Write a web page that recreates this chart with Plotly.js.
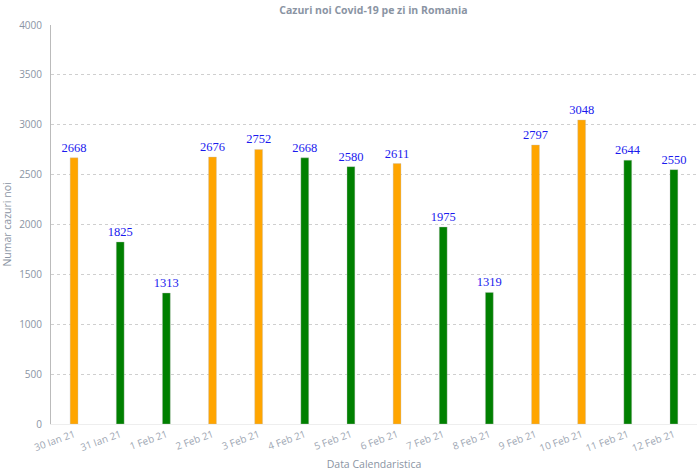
<!DOCTYPE html>
<html><head><meta charset="utf-8">
<script src="https://cdn.plot.ly/plotly-3.0.1.min.js"></script>
<style>html,body{margin:0;padding:0;background:#fff}#c{width:698px;height:476px}</style>
</head><body><div id="c"></div>
<script>
const categories = ["30 Ian 21","31 Ian 21","1 Feb 21","2 Feb 21","3 Feb 21","4 Feb 21","5 Feb 21","6 Feb 21","7 Feb 21","8 Feb 21","9 Feb 21","10 Feb 21","11 Feb 21","12 Feb 21"];
const cases = [2668,1825,1313,2676,2752,2668,2580,2611,1975,1319,2797,3048,2644,2550];
const barColors = ["#FFA500","#008000","#008000","#FFA500","#FFA500","#008000","#008000","#FFA500","#008000","#008000","#FFA500","#FFA500","#008000","#008000"];
const yTicks = [0,500,1000,1500,2000,2500,3000,3500,4000];

const gray = "#8a94a3";
Plotly.newPlot("c", [{
  type: "bar",
  x: categories,
  y: cases,
  text: cases.map(String),
  textposition: "outside",
  constraintext: "none",
  cliponaxis: false,
  textfont: {family: "Liberation Serif, Times New Roman, serif", size: 12.5, color: "#1a1aee"},
  marker: {color: barColors, line: {color: "rgba(190,190,190,0.6)", width: 0.6}},
  hoverinfo: "x+y"
}], {
  width: 698, height: 476,
  margin: {l: 51, r: 1, t: 25, b: 52},
  bargap: 0.83,
  paper_bgcolor: "#fff", plot_bgcolor: "#fff",
  showlegend: false,
  title: {text: "<b>Cazuri noi Covid-19 pe zi in Romania</b>", x: 0.535, xanchor: "center", y: 0.985, yanchor: "top",
          font: {family: "Open Sans, sans-serif", size: 10.5, color: gray}},
  xaxis: {
    type: "category",
    tickangle: -20,
    tickfont: {family: "Open Sans, sans-serif", size: 10, color: "#a0a8b4"},
    showgrid: false,
    showline: true, linecolor: "#eeeeee", linewidth: 1,
    ticks: "",
    title: {text: "Data Calendaristica", font: {family: "Open Sans, sans-serif", size: 10.5, color: gray}, standoff: 6}
  },
  yaxis: {
    range: [0, 4000],
    tickvals: yTicks,
    ticktext: yTicks.map(String),
    tickfont: {family: "Open Sans, sans-serif", size: 10, color: gray},
    ticklabelstandoff: 6,
    showgrid: true, gridcolor: "#cfcfcf", griddash: "dot", gridwidth: 1,
    showline: true, linecolor: "#bbbbbb", linewidth: 1,
    zeroline: false,
    ticks: "", ticklen: 0,
    title: {text: "Numar cazuri noi", font: {family: "Open Sans, sans-serif", size: 10.5, color: gray}, standoff: 6}
  }
}, {displayModeBar: false, staticPlot: true});
</script></body></html>
